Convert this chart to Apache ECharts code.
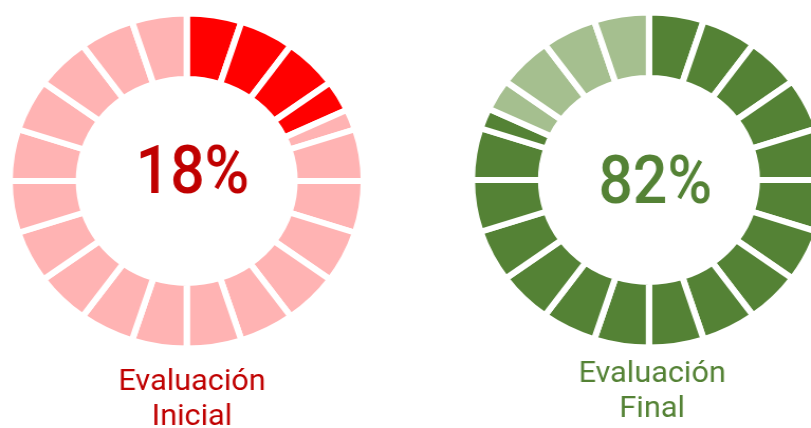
<!DOCTYPE html>
<html>
<head>
    <meta charset="utf-8"/>
    <title>Evaluación</title>
    <script src="https://cdn.jsdelivr.net/npm/echarts@6/dist/echarts.min.js"></script>
    <style>
        html, body {
            margin: 0;
            padding: 0;
            background: #ffffff;
            overflow: hidden;
        }
        #wrap {
            width: 811px;
            height: 428px;
            overflow: hidden;
        }
        /* la imagen original está un poco estirada en horizontal */
        #chart {
            width: 767px;
            height: 428px;
            transform: scaleX(1.0573);
            transform-origin: 0 0;
        }
    </style>
</head>
<body>
<div id="wrap"><div id="chart"></div></div>

<script>
// datos
var labels = ['Evaluación\nInicial', 'Evaluación\nFinal'];
var percents = [18, 82];
var fillColors = ['#ff0000', '#548235'];
var restColors = ['#ffb3b3', '#a5bf8f'];
var textColors = ['#c00000', '#548235'];
var SEGMENTS = 20;

// trozos del anillo: cada segmento es 5%, el que contiene el valor se parte en dos
function buildPieces(pct, fill, rest) {
    var step = 100 / SEGMENTS;
    var out = [];
    for (var i = 0; i < SEGMENTS; i++) {
        var a = i * step, b = a + step;
        if (b <= pct) {
            out.push({value: step, itemStyle: {color: fill}});
        } else if (a >= pct) {
            out.push({value: step, itemStyle: {color: rest}});
        } else {
            out.push({value: pct - a, itemStyle: {color: fill}});
            out.push({value: b - pct, itemStyle: {color: rest}});
        }
    }
    return out;
}

var centers = [[176.6, 181], [613.8, 180]];
var pctPos = [[182.1, 176], [619.7, 186]];
var labelPos = [[181.6, 400], [616.8, 392]];

var series = [];
var graphics = [];
for (var k = 0; k < percents.length; k++) {
    series.push({
        type: 'pie',
        silent: true,
        animation: false,
        startAngle: 90,
        clockwise: true,
        center: centers[k],
        radius: [102, 167.5],
        avoidLabelOverlap: false,
        label: {show: false},
        labelLine: {show: false},
        itemStyle: {borderColor: '#ffffff', borderWidth: 6},
        emphasis: {disabled: true},
        data: buildPieces(percents[k], fillColors[k], restColors[k])
    });
    graphics.push({
        type: 'text',
        x: pctPos[k][0],
        y: pctPos[k][1],
        scaleX: 0.87,
        style: {
            text: percents[k] + '%',
            fill: textColors[k],
            font: '500 66px "Roboto", sans-serif',
            textAlign: 'center',
            textVerticalAlign: 'middle'
        }
    });
    graphics.push({
        type: 'text',
        x: labelPos[k][0],
        y: labelPos[k][1],
        style: {
            text: labels[k],
            fill: textColors[k],
            font: '29px "Roboto", sans-serif',
            lineHeight: 35,
            textAlign: 'center',
            textVerticalAlign: 'middle'
        }
    });
}

var chart = echarts.init(document.getElementById('chart'));
chart.setOption({
    animation: false,
    series: series,
    graphic: graphics
});
</script>
</body>
</html>
